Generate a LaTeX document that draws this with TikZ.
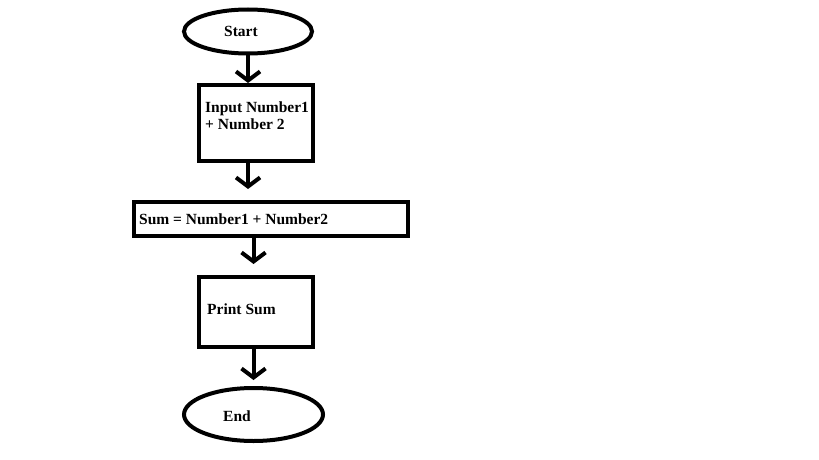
\documentclass[tikz,border=0pt]{standalone}
\usepackage{fontspec}
\setmainfont{Liberation Serif}
\usetikzlibrary{arrows.meta,shapes.geometric}

\begin{document}
\begin{tikzpicture}[
  x=1pt, y=-1pt,
  term/.style={draw, ellipse, line width=4pt, inner sep=0pt},
  box/.style={draw, rectangle, line width=4pt, inner sep=0pt},
  txt/.style={inner sep=0pt, anchor=base west, align=left,
    font=\bfseries\fontsize{15.5}{17}\selectfont},
  flow/.style={line width=4pt, -{Straight Barb[length=9pt,width=24pt]}}
  ]
  \useasboundingbox (0,0) rectangle (819,460);

  % shapes
  \node[term, minimum width=128pt, minimum height=44pt] (NStart) at (248,31.5) {};
  \node[box, minimum width=114pt, minimum height=76pt] (NInput) at (256,123) {};
  \node[box, minimum width=274pt, minimum height=34pt] (NSum) at (271,219) {};
  \node[box, minimum width=114pt, minimum height=70pt] (NPrint) at (256,312) {};
  \node[term, minimum width=139pt, minimum height=53pt] (NEnd) at (253.5,414.5) {};

  % texts
  \node[txt] (NStarttxt) at (224,37) {Start};
  \node[txt] (NInputtxt) at (205,129) {Input Number1\\+ Number 2};
  \node[txt] (NSumtxt) at (139,224) {Sum = Number1 + Number2};
  \node[txt] (NPrinttxt) at (207,314) {Print Sum};
  \node[txt] (NEndtxt) at (223,421) {End};

  % arrows
  \draw[flow] (NStart.south) -- (NStart.south |- NInput.north);
  \draw[flow, shorten >=11pt] (NInput.south -| NStart.south) -- (NSum.north -| NStart.south);
  \draw[flow, shorten >=11pt] (NSum.south -| NEnd.north) -- (NPrint.north -| NEnd.north);
  \draw[flow, shorten >=6pt] (NPrint.south -| NEnd.north) -- (NEnd.north);
\end{tikzpicture}
\end{document}
